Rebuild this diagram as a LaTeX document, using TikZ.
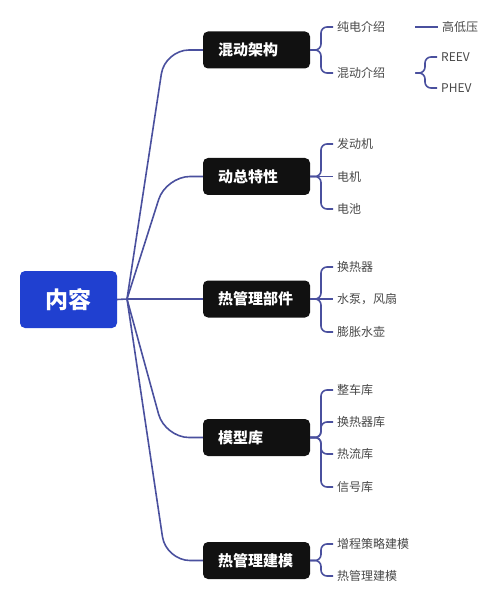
\documentclass[tikz,border=0pt]{standalone}
\usepackage{fontspec}
\setmainfont{Noto Sans CJK SC}
\definecolor{rootblue}{RGB}{32,64,208}
\definecolor{boxblack}{RGB}{17,17,17}
\definecolor{linec}{RGB}{74,80,158}
\definecolor{leaftext}{RGB}{72,72,72}
\tikzset{
  rootbox/.style={fill=rootblue, rounded corners=5pt, minimum width=97pt, minimum height=57pt, text=white, font=\fontsize{23}{26}\selectfont\bfseries, inner sep=0pt},
  mainbox/.style={fill=boxblack, rounded corners=5pt, text width=77pt, align=left, inner xsep=15pt, inner ysep=0pt, minimum height=37pt, text=white, font=\fontsize{15}{18}\selectfont\bfseries},
  leaf/.style={anchor=west, text=leaftext, font=\fontsize{12}{14}\selectfont, inner xsep=4pt, inner ysep=2pt},
  wideleaf/.style={leaf, text width=74pt, align=left},
  conn/.style={draw=linec, line width=1.6pt, rounded corners=6pt},
  trunk/.style={draw=linec, line width=1.6pt, rounded corners=24pt}
}
\begin{document}
\begin{tikzpicture}[x=1pt,y=-1pt]
\useasboundingbox (0,0) rectangle (498,609);
% root
\node[rootbox] (root) at (68.5,299.5) {内容};
\coordinate (hub) at (127,299);
% main boxes
\node[mainbox] (a1) at (256.5,50) {混动架构};
\node[mainbox] (a2) at (256.5,176.5) {动总特性};
\node[mainbox] (a3) at (256.5,299) {热管理部件};
\node[mainbox] (a4) at (256.5,437.5) {模型库};
\node[mainbox] (a5) at (256.5,560.5) {热管理建模};
% trunk connectors
\draw[conn] (root.east) -- (hub);
\draw[trunk] (hub) -- (165,50) -- (a1.west);
\draw[trunk] (hub) -- (166,176.5) -- (a2.west);
\draw[conn] (hub) -- (a3.west);
\draw[trunk] (hub) -- (165,437.5) -- (a4.west);
\draw[trunk] (hub) -- (166,560.5) -- (a5.west);
% leaves of a1
\node[wideleaf] (b1) at (333,27) {纯电介绍};
\node[wideleaf] (b2) at (333,73) {混动介绍};
\node[leaf] (c1) at (438,27) {高低压};
\node[leaf] (c2) at (437,57) {REEV};
\node[leaf] (c3) at (437,88) {PHEV};
\draw[conn] (a1.east) -- (321,50) -- (321,27) -- (b1.west);
\draw[conn] (a1.east) -- (321,50) -- (321,73) -- (b2.west);
\draw[conn] (b1.east) -- (c1.west);
\draw[conn] (b2.east) -- (425,73) -- (425,57) -- (c2.west);
\draw[conn] (b2.east) -- (425,73) -- (425,88) -- (c3.west);
% leaves of a2
\node[leaf] (d1) at (333,144) {发动机};
\node[leaf] (d2) at (333,176.5) {电机};
\node[leaf] (d3) at (333,209) {电池};
\draw[conn] (a2.east) -- (321,176.5) -- (321,144) -- (d1.west);
\draw[conn] (a2.east) -- (d2.west);
\draw[conn] (a2.east) -- (321,176.5) -- (321,209) -- (d3.west);
% leaves of a3
\node[leaf] (e1) at (333,267) {换热器};
\node[leaf] (e2) at (333,299) {水泵，风扇};
\node[leaf] (e3) at (333,332) {膨胀水壶};
\draw[conn] (a3.east) -- (321,299) -- (321,267) -- (e1.west);
\draw[conn] (a3.east) -- (e2.west);
\draw[conn] (a3.east) -- (321,299) -- (321,332) -- (e3.west);
% leaves of a4
\node[leaf] (f1) at (333,390) {整车库};
\node[leaf] (f2) at (333,422) {换热器库};
\node[leaf] (f3) at (333,454) {热流库};
\node[leaf] (f4) at (333,487) {信号库};
\draw[conn] (a4.east) -- (321,437.5) -- (321,390) -- (f1.west);
\draw[conn] (a4.east) -- (321,437.5) -- (321,422) -- (f2.west);
\draw[conn] (a4.east) -- (321,437.5) -- (321,454) -- (f3.west);
\draw[conn] (a4.east) -- (321,437.5) -- (321,487) -- (f4.west);
% leaves of a5
\node[leaf] (g1) at (333,544) {增程策略建模};
\node[leaf] (g2) at (333,576) {热管理建模};
\draw[conn] (a5.east) -- (321,560.5) -- (321,544) -- (g1.west);
\draw[conn] (a5.east) -- (321,560.5) -- (321,576) -- (g2.west);
\end{tikzpicture}
\end{document}
